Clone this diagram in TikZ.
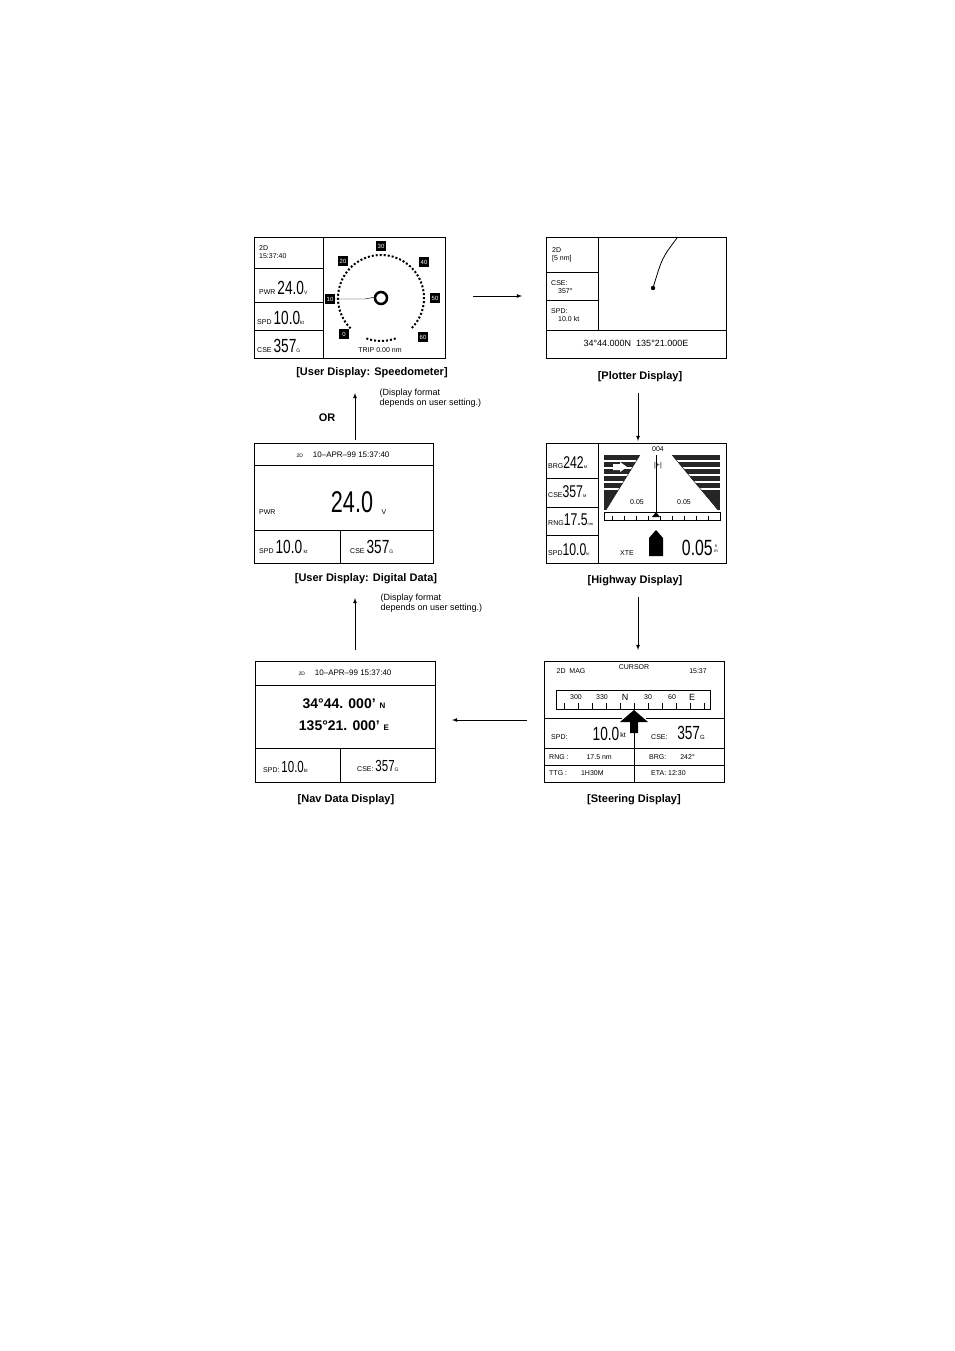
\documentclass[tikz,border=0pt]{standalone}
\usepackage{fontspec}
\usepackage{graphicx}
\setmainfont{Liberation Sans}
\usetikzlibrary{arrows, calc, positioning}
\newcommand{\nrw}[2]{{\fontsize{#1}{#1}\selectfont\scalebox{0.72}[1]{#2}}}
\tikzset{
  panel/.style={draw, thick},
  captext/.style={font=\fontsize{11}{12}\selectfont\bfseries},
  note/.style={font=\fontsize{9}{10}\selectfont, align=left, anchor=north west},
  tiny/.style={font=\fontsize{7}{8}\selectfont, inner sep=0pt},
  big/.style={font=\fontsize{14}{14}\selectfont, inner sep=0pt},
  flow/.style={-latex, thick},
  dial/.style={fill=black, text=white, font=\fontsize{6}{6}\selectfont, inner sep=1.5pt, minimum size=10pt}
}
\begin{document}
\begin{tikzpicture}[x=1pt, y=-1pt]
\useasboundingbox (0,0) rectangle (954,1351);

% speedometer
\draw[panel] (254,237) rectangle (445,358);
\draw (323,237) -- (323,358) (254,268) -- (323,268) (254,302) -- (323,302) (254,330) -- (323,330);
\node[tiny, anchor=west, align=left] (sdhead) at (259,252) {2D\\15:37:40};
\node[tiny, anchor=west] (spwr) at (259,288) {PWR \nrw{19}{24.0}\fontsize{5}{5}\selectfont V};
\node[tiny, anchor=west] (sspd) at (257,318) {SPD \nrw{19}{10.0}\fontsize{5}{5}\selectfont kt};
\node[tiny, anchor=west] (scse) at (257,346) {CSE \nrw{19}{357}\fontsize{5}{5}\selectfont G};
\draw[dotted, line width=2pt] (381,298) ++(-225:43) arc (-225:45:43);
\draw[dotted, line width=2pt] (381,298) ++(110:43) arc (110:70:43);
\draw[line width=2.5pt] (381,298) circle (6);
\draw (333,299) -- (365,299) -- (375,297);
\foreach \v/\x/\y in {30/381/246, 40/424/262, 50/435/298, 60/423/337, 0/344/334, 10/330/299, 20/343/261}
  \node[dial] (dial\v) at (\x,\y) {\v};
\node[tiny] (trip) at (380,350) {TRIP 0.00 nm};
\node[captext] (capspeedo) at (372,373) {[User Display: Speedometer]};
\node[note] (note1) at (376,385) {(Display format\\depends on user setting.)};

% plotter
\draw[panel] (546,237) rectangle (726,358);
\draw (598,237) -- (598,330) (546,330) -- (726,330) (546,272) -- (598,272) (546,300) -- (598,300);
\node[tiny, anchor=west, align=left] (phead) at (552,255) {2D\\{[}5 nm{]}};
\node[tiny, anchor=west, align=left] (pcse) at (551,287) {CSE:\\\quad 357°};
\node[tiny, anchor=west, align=left] (pspd) at (551,315) {SPD:\\\quad 10.0 kt};
\draw[thick] (677,238) .. controls (662,258) .. (653,288);
\fill (653,288) circle (2.2);
\node[font=\fontsize{9}{9}\selectfont] (ppos) at (636,343) {34°44.000N\ \ 135°21.000E};
\node[captext] (capplot) at (640,377) {[Plotter Display]};

% highway
\draw[panel] (546,443) rectangle (726,563);
\draw (598,443) -- (598,563) (546,478) -- (598,478) (546,507) -- (598,507) (546,535) -- (598,535);
\node[tiny, anchor=west] (hbrg) at (548,463) {BRG\nrw{17}{242}\fontsize{4}{4}\selectfont M};
\node[tiny, anchor=west] (hcse) at (548,492) {CSE\nrw{17}{357}\fontsize{4}{4}\selectfont M};
\node[tiny, anchor=west] (hrng) at (548,520) {RNG\nrw{17}{17.5}\fontsize{4}{4}\selectfont nm};
\node[tiny, anchor=west] (hspd) at (548,550) {SPD\nrw{17}{10.0}\fontsize{4}{4}\selectfont kt};
\fill[black!85] (604,455) rectangle (720,510);
\foreach \y in {461,468,475,482,489} \draw[white, line width=1.2pt] (604,\y) -- (720,\y);
\fill[white] (640,455) -- (672,455) -- (718,510) -- (606,510) -- cycle;
\draw (640,455) -- (606,510) (672,455) -- (718,510);
\draw (656,455) -- (656,512);
\draw (604,512) rectangle (720,520);
\foreach \x in {612,624,...,708} \draw (\x,516) -- (\x,520);
\fill (656,512) -- (652,517) -- (660,517) -- cycle;
\node[tiny] (h004) at (658,449) {004};
\node[tiny] (hbar) at (658,466) {|+|};
\fill[white] (613,464) rectangle (620,470) (620,462) -- (627,467) -- (620,472) -- cycle;
\node[tiny] (hl) at (637,502) {0.05};
\node[tiny] (hr) at (684,502) {0.05};
\fill (649,556) -- (649,538) -- (656,530) -- (663,538) -- (663,556) -- cycle;
\node[tiny] (hxte) at (627,553) {XTE};
\node[inner sep=0pt, anchor=east] (hxtev) at (713,548) {\nrw{22}{0.05}};
\node[tiny, font=\fontsize{4.5}{4.5}\selectfont, anchor=west, align=center] (hnm) at (714,549) {n\\m};
\node[captext] (caphigh) at (635,581) {[Highway Display]};

% steering
\draw[panel] (544,661) rectangle (724,782);
\draw (544,718) -- (622,718) (646,718) -- (724,718) (544,748) -- (724,748) (544,765) -- (724,765) (634,718) -- (634,782);
\node[tiny] (s2d) at (571,671) {2D\ \ MAG};
\node[tiny] (scur) at (634,667) {CURSOR};
\node[tiny] (stime) at (698,671) {15:37};
\draw (556,690) rectangle (710,709);
\foreach \x in {564,578,...,704} \draw (\x,703) -- (\x,709);
\foreach \t/\x in {300/576, 330/602, 30/648, 60/672} \node[tiny] (c\t) at (\x,697) {\t};
\node[tiny, font=\fontsize{9}{9}\selectfont] (cn) at (625,697) {N};
\node[tiny, font=\fontsize{9}{9}\selectfont] (ce) at (692,697) {E};
\fill (620,722) -- (634,710) -- (648,722) -- (638,722) -- (638,733) -- (630,733) -- (630,722) -- cycle;
\node[tiny, anchor=west] (sspdl) at (551,737) {SPD:};
\node[inner sep=0pt] (sspdv) at (606,734) {\nrw{19}{10.0}};
\node[tiny] (skt) at (623,735) {kt};
\node[tiny, anchor=west] (scsel) at (651,737) {CSE:};
\node[inner sep=0pt] (scsev) at (691,733) {\nrw{19}{357}\fontsize{6}{6}\selectfont G};
\node[tiny, anchor=west] (srng) at (549,757) {RNG :\qquad\ \ 17.5 nm};
\node[tiny, anchor=west] (sbrg) at (649,757) {BRG:\qquad 242°};
\node[tiny, anchor=west] (sttg) at (549,773) {TTG :\qquad 1H30M};
\node[tiny, anchor=west] (seta) at (651,773) {ETA: 12:30};
\node[captext] (capsteer) at (634,800) {[Steering Display]};

% nav data
\draw[panel] (255,661) rectangle (435,782);
\draw (255,685) -- (435,685) (255,748) -- (435,748) (340,748) -- (340,782);
\node[tiny, font=\fontsize{8}{8}\selectfont] (nhead) at (345,673) {\fontsize{5}{5}\selectfont 2D\qquad\fontsize{8}{8}\selectfont 10--APR--99 15:37:40};
\node[font=\fontsize{14}{14}\selectfont\bfseries, inner sep=0pt] (nlat) at (344,704) {34°44. 000' \fontsize{8}{8}\selectfont N};
\node[font=\fontsize{14}{14}\selectfont\bfseries, inner sep=0pt] (nlon) at (344,726) {135°21. 000' \fontsize{8}{8}\selectfont E};
\node[tiny, anchor=west] (nspd) at (263,767) {SPD: \nrw{16}{10.0}\fontsize{5}{5}\selectfont kt};
\node[tiny, anchor=west] (ncse) at (357,766) {CSE: \nrw{16}{357}\fontsize{5}{5}\selectfont G};
\node[captext] (capnav) at (346,800) {[Nav Data Display]};

% digital data
\draw[panel] (254,443) rectangle (433,563);
\draw (254,465) -- (433,465) (254,530) -- (433,530) (340,530) -- (340,563);
\node[tiny, font=\fontsize{8}{8}\selectfont] (dhead) at (343,455) {\fontsize{5}{5}\selectfont 2D\qquad\fontsize{8}{8}\selectfont 10--APR--99 15:37:40};
\node[tiny, anchor=west] (dpwr) at (259,512) {PWR};
\node[inner sep=0pt] (dpwrv) at (352,502) {\nrw{30}{24.0}};
\node[tiny] (dv) at (384,512) {V};
\node[tiny, anchor=west] (dspd) at (259,547) {SPD \nrw{19}{10.0}\fontsize{5}{5}\selectfont\ kt};
\node[tiny, anchor=west] (dcse) at (350,547) {CSE \nrw{19}{357}\fontsize{5}{5}\selectfont G};
\node[captext] (capdig) at (366,579) {[User Display: Digital Data]};
\node[note] (note2) at (377,590) {(Display format\\depends on user setting.)};
\node[font=\fontsize{11}{12}\selectfont\bfseries] (or) at (327,418) {OR};

% connectors
\coordinate (a1) at (473,296); \coordinate (a2) at (522,296);
\coordinate (b1) at (638,393); \coordinate (b2) at (638,441);
\coordinate (c1) at (638,597); \coordinate (c2) at (638,650);
\coordinate (d1) at (527,720); \coordinate (d2) at (452,720);
\coordinate (e1) at (355,650); \coordinate (e2) at (355,598);
\coordinate (f1) at (355,440); \coordinate (f2) at (355,393);
\foreach \s/\t in {a1/a2, b1/b2, c1/c2, d1/d2, e1/e2, f1/f2} \draw[flow] (\s) -- (\t);
\end{tikzpicture}
\end{document}
